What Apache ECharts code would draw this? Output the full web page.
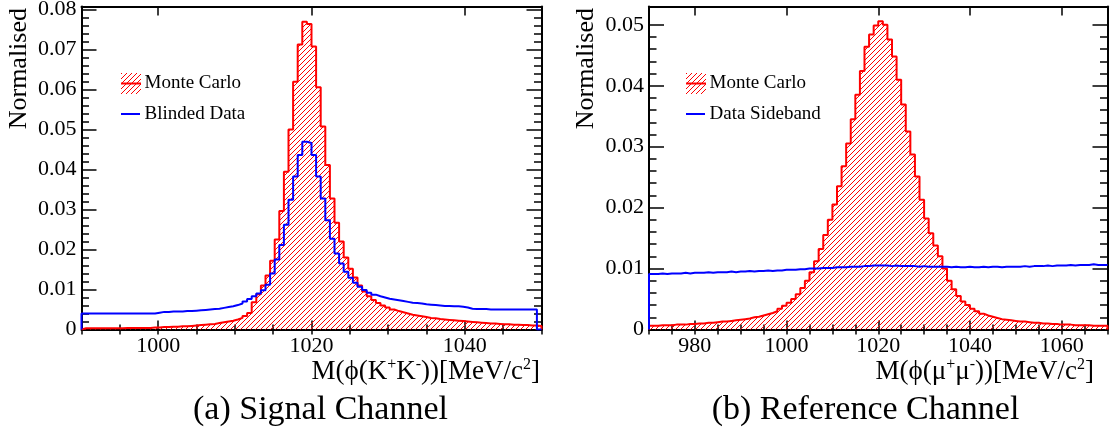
<!DOCTYPE html>
<html><head><meta charset="utf-8">
<script src="https://cdn.jsdelivr.net/npm/echarts@6/dist/echarts.min.js"></script>
<style>html,body{margin:0;padding:0;background:#fff}#c{width:1114px;height:435px}</style>
</head><body><div id="c"></div>
<script>
// ---------------- DATA ----------------
// (a) Signal channel: 100 bins of 0.6 MeV from 990 to 1050
const sigLo = 990, sigHi = 1050, sigBinW = 0.6;
const sigMonteCarlo = [
0.0003,0.0003,0.0003,0.0003,0.0003,0.0003,0.0003,0.0003,0.0003,0.0004,
0.0004,0.0004,0.0004,0.0004,0.0004,0.0005,0.0005,0.0006,0.0006,0.0007,
0.0007,0.0008,0.0008,0.0009,0.0010,0.0011,0.0012,0.0013,0.0014,0.0016,
0.0018,0.0020,0.0022,0.0025,0.0029,0.0034,0.0041,0.0068,0.0088,0.0110,
0.0135,0.0172,0.0225,0.0296,0.0394,0.0500,0.0619,0.0712,0.0769,0.0763,
0.0707,0.0605,0.0507,0.0411,0.0327,0.0267,0.0220,0.0180,0.0152,0.0130,
0.0110,0.0095,0.0083,0.0074,0.0066,0.0060,0.0055,0.0050,0.0046,0.0043,
0.0040,0.0037,0.0035,0.0033,0.0031,0.0029,0.0028,0.0026,0.0025,0.0024,
0.0023,0.0022,0.0021,0.0020,0.0019,0.0018,0.0017,0.0016,0.0015,0.0015,
0.0014,0.0013,0.0013,0.0012,0.0012,0.0011,0.0011,0.0010,0.0010,0.0009];
const sigBlindedData = [
0.0040,0.0040,0.0040,0.0040,0.0040,0.0040,0.0040,0.0040,0.0040,0.0040,
0.0040,0.0040,0.0040,0.0040,0.0040,0.0040,0.0042,0.0044,0.0044,0.0045,
0.0045,0.0045,0.0046,0.0046,0.0047,0.0048,0.0049,0.0050,0.0051,0.0052,
0.0054,0.0056,0.0058,0.0061,0.0065,0.0070,0.0076,0.0083,0.0090,0.0098,
0.0112,0.0140,0.0175,0.0211,0.0262,0.0324,0.0382,0.0436,0.0469,0.0466,
0.0436,0.0382,0.0327,0.0273,0.0227,0.0190,0.0165,0.0144,0.0129,0.0117,
0.0107,0.0099,0.0092,0.0087,0.0083,0.0080,0.0077,0.0075,0.0073,0.0071,
0.0069,0.0067,0.0066,0.0065,0.0063,0.0062,0.0061,0.0060,0.0059,0.0059,
0.0058,0.0058,0.0057,0.0055,0.0052,0.0051,0.0051,0.0051,0.0050,0.0050,
0.0050,0.0050,0.0050,0.0050,0.0050,0.0050,0.0050,0.0050,0.0050,0.0000];
// (b) Reference channel: 100 bins of 1 MeV from 970 to 1070
const refLo = 970, refHi = 1070, refBinW = 1;
const refMonteCarlo = [
0.0006,0.0006,0.0007,0.0007,0.0007,0.0008,0.0008,0.0008,0.0009,0.0009,
0.0010,0.0010,0.0011,0.0011,0.0012,0.0013,0.0013,0.0014,0.0015,0.0016,
0.0017,0.0018,0.0020,0.0021,0.0023,0.0025,0.0027,0.0030,0.0034,0.0039,
0.0044,0.0050,0.0058,0.0068,0.0080,0.0094,0.0112,0.0132,0.0155,0.0180,
0.0205,0.0235,0.0268,0.0305,0.0345,0.0385,0.0424,0.0464,0.0484,0.0499,
0.0506,0.0500,0.0476,0.0448,0.0410,0.0369,0.0325,0.0287,0.0251,0.0213,
0.0182,0.0158,0.0138,0.0120,0.0100,0.0080,0.0066,0.0055,0.0046,0.0040,
0.0034,0.0030,0.0026,0.0023,0.0021,0.0019,0.0017,0.0016,0.0015,0.0014,
0.0013,0.0013,0.0012,0.0011,0.0011,0.0010,0.0010,0.0009,0.0009,0.0008,
0.0008,0.0008,0.0007,0.0007,0.0007,0.0007,0.0006,0.0006,0.0006,0.0006];
const refDataSideband = [
0.0091,0.0091,0.0092,0.0091,0.0092,0.0092,0.0092,0.0093,0.0092,0.0093,
0.0093,0.0093,0.0094,0.0093,0.0094,0.0094,0.0094,0.0095,0.0094,0.0095,
0.0095,0.0096,0.0095,0.0096,0.0096,0.0097,0.0096,0.0097,0.0097,0.0098,
0.0098,0.0098,0.0099,0.0099,0.0100,0.0100,0.0100,0.0101,0.0101,0.0101,
0.0102,0.0102,0.0102,0.0103,0.0103,0.0103,0.0104,0.0104,0.0105,0.0105,
0.0105,0.0105,0.0104,0.0105,0.0104,0.0104,0.0104,0.0104,0.0103,0.0104,
0.0103,0.0103,0.0103,0.0103,0.0103,0.0102,0.0103,0.0102,0.0102,0.0103,
0.0102,0.0102,0.0103,0.0102,0.0103,0.0103,0.0102,0.0103,0.0103,0.0103,
0.0103,0.0104,0.0103,0.0104,0.0104,0.0104,0.0105,0.0104,0.0105,0.0105,
0.0105,0.0106,0.0105,0.0106,0.0106,0.0106,0.0107,0.0106,0.0106,0.0106];
// tick labels
const sigXTicks = [1000, 1020, 1040];
const sigYTicks = [0, 0.01, 0.02, 0.03, 0.04, 0.05, 0.06, 0.07, 0.08];
const refXTicks = [980, 1000, 1020, 1040, 1060];
const refYTicks = [0, 0.01, 0.02, 0.03, 0.04, 0.05];
const sigYMax = 0.0807, refYMax = 0.0530;
const sigLegend = ['Monte Carlo', 'Blinded Data'];
const refLegend = ['Monte Carlo', 'Data Sideband'];
const captions = ['(a) Signal Channel', '(b) Reference Channel'];
const yTitle = 'Normalised';

// ---------------- RENDER ----------------
const F = 'Liberation Serif';
const RED = '#ff0000', BLUE = '#0000ff';

const pc = document.createElement('canvas');
pc.width = 5; pc.height = 5;
(function(){
  const c = pc.getContext('2d');
  c.strokeStyle = RED; c.lineWidth = 1;
  c.beginPath();
  c.moveTo(0,5); c.lineTo(5,0);
  c.moveTo(-1,1); c.lineTo(1,-1);
  c.moveTo(4,6); c.lineTo(6,4);
  c.stroke();
})();
const hatch = {image: pc, repeat: 'repeat'};

function histPoints(lo, w, vals, closeRight){
  const pts = [[lo, 0]];
  vals.forEach((v,i)=>pts.push([lo + i*w, v]));
  const hi = lo + vals.length*w;
  pts.push([hi, vals[vals.length-1]]);
  if (closeRight) pts.push([hi, 0]);
  return pts;
}
function steps(lo, hi, st){ const a=[]; const n=Math.round((hi-lo)/st); for(let k=0;k<=n;k++) a.push(+(lo+k*st).toFixed(6)); return a; }

const tickLine = {color:'#000', width:1.5};
function xAxes(g, min, max, majors){
  const minors = steps(min, max, 5);
  const base = {gridIndex:g, type:'value', min, max, splitLine:{show:false}};
  return [
    Object.assign({}, base, {position:'bottom', axisLine:{show:true,onZero:false,lineStyle:{color:'#000',width:2}},
      axisTick:{show:true,inside:true,length:9,customValues:majors,lineStyle:tickLine},
      axisLabel:{show:true,customValues:majors,margin:6,color:'#000',fontFamily:F,fontSize:22,formatter:v=>String(v)}}),
    Object.assign({}, base, {position:'bottom', axisLine:{show:false},
      axisTick:{show:true,inside:true,length:5,customValues:minors,lineStyle:tickLine}, axisLabel:{show:false}}),
    Object.assign({}, base, {position:'top', axisLine:{show:true,onZero:false,lineStyle:{color:'#000',width:2}},
      axisTick:{show:true,inside:true,length:9,customValues:majors,lineStyle:tickLine}, axisLabel:{show:false}}),
    Object.assign({}, base, {position:'top', axisLine:{show:false},
      axisTick:{show:true,inside:true,length:5,customValues:minors,lineStyle:tickLine}, axisLabel:{show:false}})
  ];
}
function yAxes(g, max, majors){
  const minors = steps(0, majors[majors.length-1], 0.002);
  const base = {gridIndex:g, type:'value', min:0, max, splitLine:{show:false}};
  return [
    Object.assign({}, base, {position:'left', axisLine:{show:true,onZero:false,lineStyle:{color:'#000',width:2}},
      axisTick:{show:true,inside:true,length:15,customValues:majors,lineStyle:tickLine},
      axisLabel:{show:true,customValues:majors,margin:5,color:'#000',fontFamily:F,fontSize:22,
        formatter:v=> v===0 ? '0' : v.toFixed(2)}}),
    Object.assign({}, base, {position:'left', axisLine:{show:false},
      axisTick:{show:true,inside:true,length:7.5,customValues:minors,lineStyle:tickLine}, axisLabel:{show:false}}),
    Object.assign({}, base, {position:'right', axisLine:{show:true,onZero:false,lineStyle:{color:'#000',width:2}},
      axisTick:{show:true,inside:true,length:15,customValues:majors,lineStyle:tickLine}, axisLabel:{show:false}}),
    Object.assign({}, base, {position:'right', axisLine:{show:false},
      axisTick:{show:true,inside:true,length:7.5,customValues:minors,lineStyle:tickLine}, axisLabel:{show:false}})
  ];
}

function histSeries(xi, yi, pts, color, fill){
  const s = {type:'line', xAxisIndex:xi, yAxisIndex:yi, data:pts, step:'end', symbol:'none', showSymbol:false,
    lineStyle:{color, width:2}, itemStyle:{color}, silent:true, animation:false, z: fill?2:3};
  if (fill) s.areaStyle = {color: hatch, opacity: 1, origin: 'start'};
  return s;
}

function txt(x, y, text, size, align, extra){
  return Object.assign({type:'text', x, y, style:{text, fontFamily:F, fontSize:size, fill:'#000', align, verticalAlign:'middle'}}, extra||{});
}

function axisTitle(x, y, part1){
  return {type:'text', x, y, style:{
    text: '{n|M(ϕ(' + part1 + '}{s|+}{n|' + part1 + '}{s|-}{n|))[MeV/c}{s|2}{n|]}',
    align:'right', verticalAlign:'middle', fill:'#000', fontFamily:F, fontSize:27,
    rich:{ n:{fontFamily:F, fontSize:27, lineHeight:29, fill:'#000'},
           s:{fontFamily:F, fontSize:16, lineHeight:14, verticalAlign:'top', fill:'#000'} }
  }};
}

function legend(bx, texts){
  return [
    {type:'rect', shape:{x:bx, y:73, width:20, height:21}, style:{fill:hatch}},
    {type:'line', shape:{x1:bx, y1:83.5, x2:bx+20, y2:83.5}, style:{stroke:RED, lineWidth:2}},
    txt(bx+23.5, 83.5, texts[0], 19, 'left'),
    {type:'line', shape:{x1:bx, y1:114, x2:bx+19, y2:114}, style:{stroke:BLUE, lineWidth:2}},
    txt(bx+23.5, 114, texts[1], 19, 'left')
  ];
}

const chart = echarts.init(document.getElementById('c'), null, {renderer:'canvas'});
chart.setOption({
  animation:false,
  backgroundColor:'#fff',
  grid:[
    {left:81.5, top:6.5, width:460, height:323, outerBoundsMode:'none', containLabel:false},
    {left:649, top:6.5, width:458.5, height:323, outerBoundsMode:'none', containLabel:false}
  ],
  xAxis: [].concat(xAxes(0, sigLo, sigHi, sigXTicks), xAxes(1, refLo, refHi, refXTicks)),
  yAxis: [].concat(yAxes(0, sigYMax, sigYTicks), yAxes(1, refYMax, refYTicks)),
  series:[
    histSeries(0, 0, histPoints(sigLo, sigBinW, sigMonteCarlo, true), RED, true),
    histSeries(0, 0, histPoints(sigLo, sigBinW, sigBlindedData, true), BLUE, false),
    histSeries(4, 4, histPoints(refLo, refBinW, refMonteCarlo, true), RED, true),
    histSeries(4, 4, histPoints(refLo, refBinW, refDataSideband, false), BLUE, false)
  ],
  graphic:[].concat(
    [txt(19, 8, yTitle, 26, 'right', {rotation:Math.PI/2}),
     txt(586.5, 8, yTitle, 26, 'right', {rotation:Math.PI/2}),
     axisTitle(540, 371.5, 'K'),
     axisTitle(1094, 371.5, 'μ'),
     txt(320.5, 410, captions[0], 34, 'center'),
     txt(865.5, 410, captions[1], 34, 'center')],
    legend(121, sigLegend),
    legend(686, refLegend)
  )
});
</script></body></html>
